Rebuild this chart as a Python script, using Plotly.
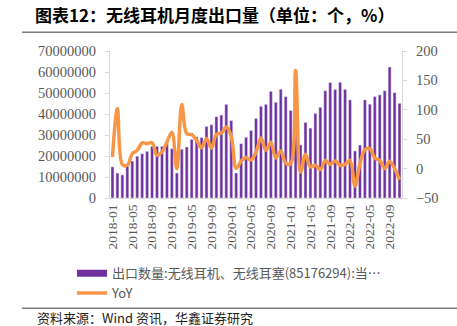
import plotly.graph_objects as go

months = [f"{y}-{m:02d}" for y in range(2018, 2023) for m in range(1, 13)][:59]

exports = [14.8, 11.9, 11.0, 15.1, 17.6, 19.9, 21.1, 22.2, 24.6, 24.6, 24.6, 25.9,
           23.5, 11.9, 23.2, 24.3, 27.9, 29.1, 28.8, 34.1, 34.9, 38.7, 39.5, 44.6,
           36.9, 11.9, 25.9, 28.9, 32.2, 37.9, 43.7, 44.6, 50.8, 45.6, 51.8, 48.3,
           41.7, 32.2, 25.3, 36.0, 33.3, 40.3, 43.2, 51.1, 55.0, 51.7, 55.1, 51.7,
           46.7, 22.4, 25.2, 46.7, 44.7, 48.3, 49.1, 51.1, 62.4, 50.2, 45.1]
exports = [v * 1e6 for v in exports]

yoy = [19.7, 102, 7.3, 5.6, 25.5, 31, 43.6, 42.5, 44, 22.6, 28.3, 45,
       62, 0, 109, 59.5, 57.8, 48, 35.7, 51, 35, 58.3, 60.6, 70.8,
       55, 0.5, 13, 19, 14.5, 28, 52, 31, 45, 18, 30, 9.5,
       8.5, 167, -5.8, 24.3, 2.7, 5.6, -1.7, 14, 7.3, 13, 5.6, 7.3,
       14, -30, 8.5, 32, 34, 18, 14, 0, 12.4, 0, -19]

tick_labels = months[::4]
bar_name = "出口数量:无线耳机、无线耳塞(85176294):当…"
line_name = "YoY"

PURPLE = "#7030A0"
ORANGE = "#F79646"
GRAY = "#595959"
AXIS = "#D9D9D9"

fig = go.Figure()
fig.add_trace(go.Bar(x=months, y=exports, marker_color=PURPLE, showlegend=False,
                     name=bar_name))
fig.add_trace(go.Scatter(x=[None], y=[None], mode="lines", name=bar_name,
                         line=dict(color=PURPLE, width=7)))
fig.add_trace(go.Scatter(x=months, y=yoy, mode="lines", name=line_name, yaxis="y2",
                         line=dict(color=ORANGE, width=3.5, shape="spline", smoothing=1)))

serif = "Liberation Serif"
fig.update_layout(
    width=457, height=326, autosize=False,
    margin=dict(l=110, r=55, t=51, b=128, pad=0),
    paper_bgcolor="white", plot_bgcolor="white",
    bargap=0.4,
    xaxis=dict(type="category", tickmode="array", tickvals=tick_labels, ticktext=tick_labels,
               tickangle=-90, showgrid=False, showline=True, linecolor=AXIS, linewidth=1,
               ticks="", tickfont=dict(family=serif, size=13.5, color=GRAY),
               range=[-0.5, 58.5]),
    yaxis=dict(range=[0, 70e6], dtick=10e6, tickformat="d", showgrid=False, zeroline=False,
               showline=True, linecolor=AXIS, ticks="outside", ticklen=4, tickcolor=AXIS,
               tickfont=dict(family=serif, size=14.5, color=GRAY), ticklabelstandoff=6),
    yaxis2=dict(range=[-50, 200], dtick=50, overlaying="y", side="right", showgrid=False,
                zeroline=False, showline=True, linecolor=AXIS, ticks="outside", ticklen=4,
                tickcolor=AXIS, tickfont=dict(family=serif, size=14.5, color=GRAY),
                ticklabelstandoff=6),
    legend=dict(x=-0.13, y=-0.41, xanchor="left", yanchor="top", orientation="v",
                font=dict(family="Noto Sans CJK SC", size=13, color=GRAY),
                bgcolor="rgba(0,0,0,0)", tracegroupgap=0),
    title=dict(text="<b>图表12：无线耳机月度出口量（单位：个，%）</b>", xref="container",
               yref="container", x=35/457, y=1-16/326, xanchor="left", yanchor="middle",
               font=dict(family="Noto Sans CJK SC", size=17, color="black")),
    annotations=[dict(text="资料来源：Wind 资讯，华鑫证券研究", xref="paper", yref="paper",
                      x=(35-110)/292, y=(197.7-317.5)/147, xanchor="left", yanchor="middle",
                      showarrow=False,
                      font=dict(family="Noto Sans CJK SC", size=13, color="#222222"))],
    shapes=[dict(type="line", xref="paper", yref="paper", x0=(22-110)/292, x1=(457-110)/292,
                 y0=(197.7-32)/147, y1=(197.7-32)/147, line=dict(color="#7F7F7F", width=1.5)),
            dict(type="line", xref="paper", yref="paper", x0=(22-110)/292, x1=(457-110)/292,
                 y0=(197.7-308)/147, y1=(197.7-308)/147, line=dict(color="#7F7F7F", width=1.5))],
)

fig.write_html("out.html")
